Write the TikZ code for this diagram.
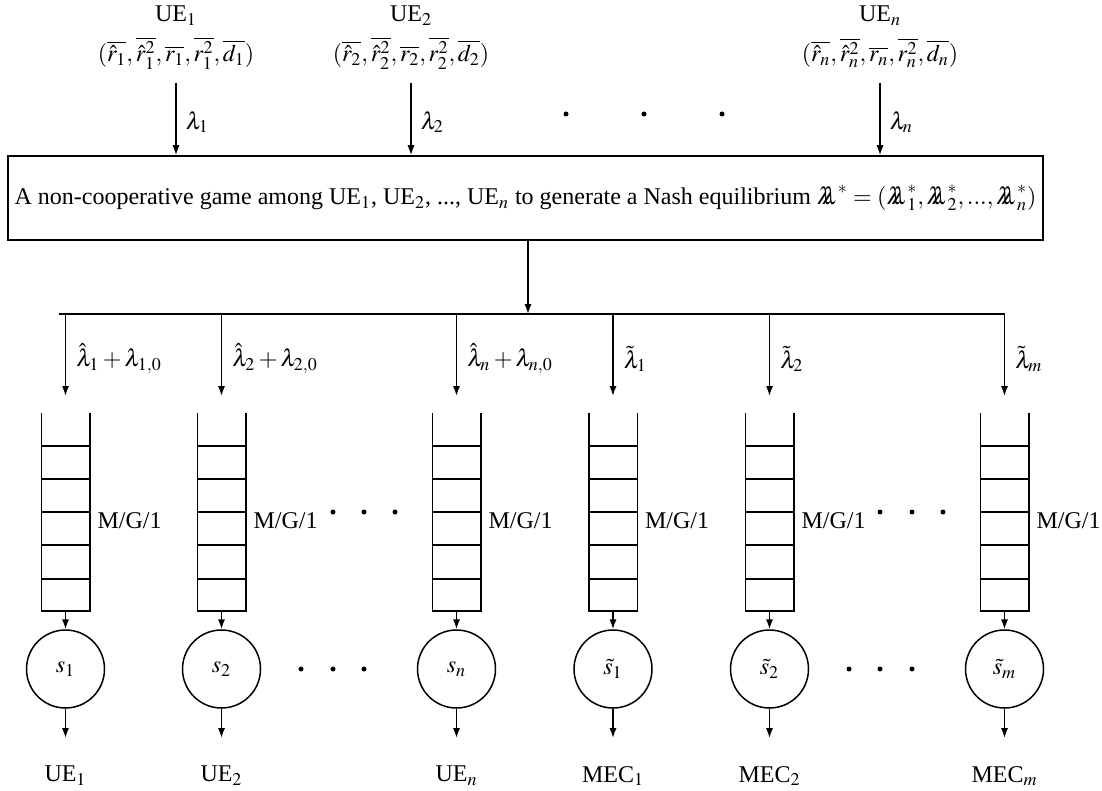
\documentclass[tikz,border=0pt]{standalone}
\usepackage{mathptmx}
\usepackage{fontspec}
\setmainfont{Liberation Serif}
\usetikzlibrary{arrows.meta,calc}
\newcommand{\dlam}{\mathord{\lambda\mkern-8.5mu\lambda}}
\tikzset{
  lab/.style={font=\fontsize{12}{14}\selectfont, inner sep=0pt},
  arr/.style={-{Latex[length=5pt,width=3.6pt]}},
  qbox/.style={draw=none, minimum width=23.5pt, minimum height=98pt, inner sep=0pt},
  circ/.style={draw, circle, minimum size=39pt, inner sep=0pt, font=\fontsize{12}{14}\selectfont},
  dot/.style={fill=black},
}
\begin{document}
\begin{tikzpicture}[x=0.5pt,y=-0.5pt,line width=0.75pt]
\useasboundingbox (0,0) rectangle (1102,791);
% main box
\node[draw, minimum width=517.5pt, minimum height=42pt, inner sep=0pt, lab] (box) at (525.5,198)
  {A non-cooperative game among UE$_1$, UE$_2$, ..., UE$_n$ to generate a Nash equilibrium $\dlam^* = (\dlam_1^*, \dlam_2^*, ..., \dlam_n^*)$};
% top UEs
\foreach \i/\xx/\k in {1/176/1, 2/411/2, 3/880/n} {
  \node[lab] (ue\i) at (\xx,16) {UE$_\k$};
  \node[lab] (tp\i) at (\xx,53) {$(\overline{\hat r_\k}, \overline{\hat r_\k^2}, \overline{r_\k}, \overline{r_\k^2}, \overline{d_\k})$};
  \coordinate (a\i) at (\xx,83);
  \draw[arr] (a\i) -- (box.north -| a\i);
  \node[lab, anchor=west] at (\xx+9,122) {$\lambda_\k$};
}
\foreach \xx [count=\j] in {566,644,722} \fill (\xx,114) circle (2.5) coordinate (td\j);
% central connector and bar
\coordinate (c) at (528,314);
\draw[arr] (box.south -| c) -- (c);
\coordinate (bl) at (59,314);
% queues
\foreach \i/\xx/\lam/\srv/\out in {
  1/65.5/{$\hat\lambda_1 + \lambda_{1,0}$}/{$s_1$}/{UE$_1$},
  2/221.5/{$\hat\lambda_2 + \lambda_{2,0}$}/{$s_2$}/{UE$_2$},
  3/456.5/{$\hat\lambda_n + \lambda_{n,0}$}/{$s_n$}/{UE$_n$},
  4/613/{$\tilde\lambda_1$}/{$\tilde s_1$}/{MEC$_1$},
  5/769.5/{$\tilde\lambda_2$}/{$\tilde s_2$}/{MEC$_2$},
  6/1004.5/{$\tilde\lambda_m$}/{$\tilde s_m$}/{MEC$_m$}} {
  \coordinate (b\i) at (\xx,314);
  \coordinate (t\i) at (\xx,396);
  \draw[arr] (b\i) -- (t\i);
  \node[lab, anchor=west] at (\xx+10,359) {\lam};
  \node[qbox] (q\i) at (\xx,512) {};
  \draw (q\i.north west) -- (q\i.south west) -- (q\i.south east) -- (q\i.north east);
  \foreach \yy in {446,479,512,545,579} \draw (\xx-23.5,\yy) -- (\xx+23.5,\yy);
  \node[lab, anchor=west] at ($(q\i.east)+(7,9)$) {M/G/1};
  \node[circ] (s\i) at (\xx,669) {\srv};
  \draw[arr] (q\i.south) -- (s\i.north);
  \coordinate (o\i) at (\xx,738);
  \draw[arr] (s\i.south) -- (o\i);
  \node[lab] at (\xx,776) {\out};
}
\draw (bl) -- (b6);
% dots
\foreach \xx in {333,364,395,880,912,943} \fill (\xx,512) circle (2.5);
\foreach \xx in {301,333,364,849,880,912} \fill (\xx,669) circle (2.5);
\end{tikzpicture}
\end{document}
